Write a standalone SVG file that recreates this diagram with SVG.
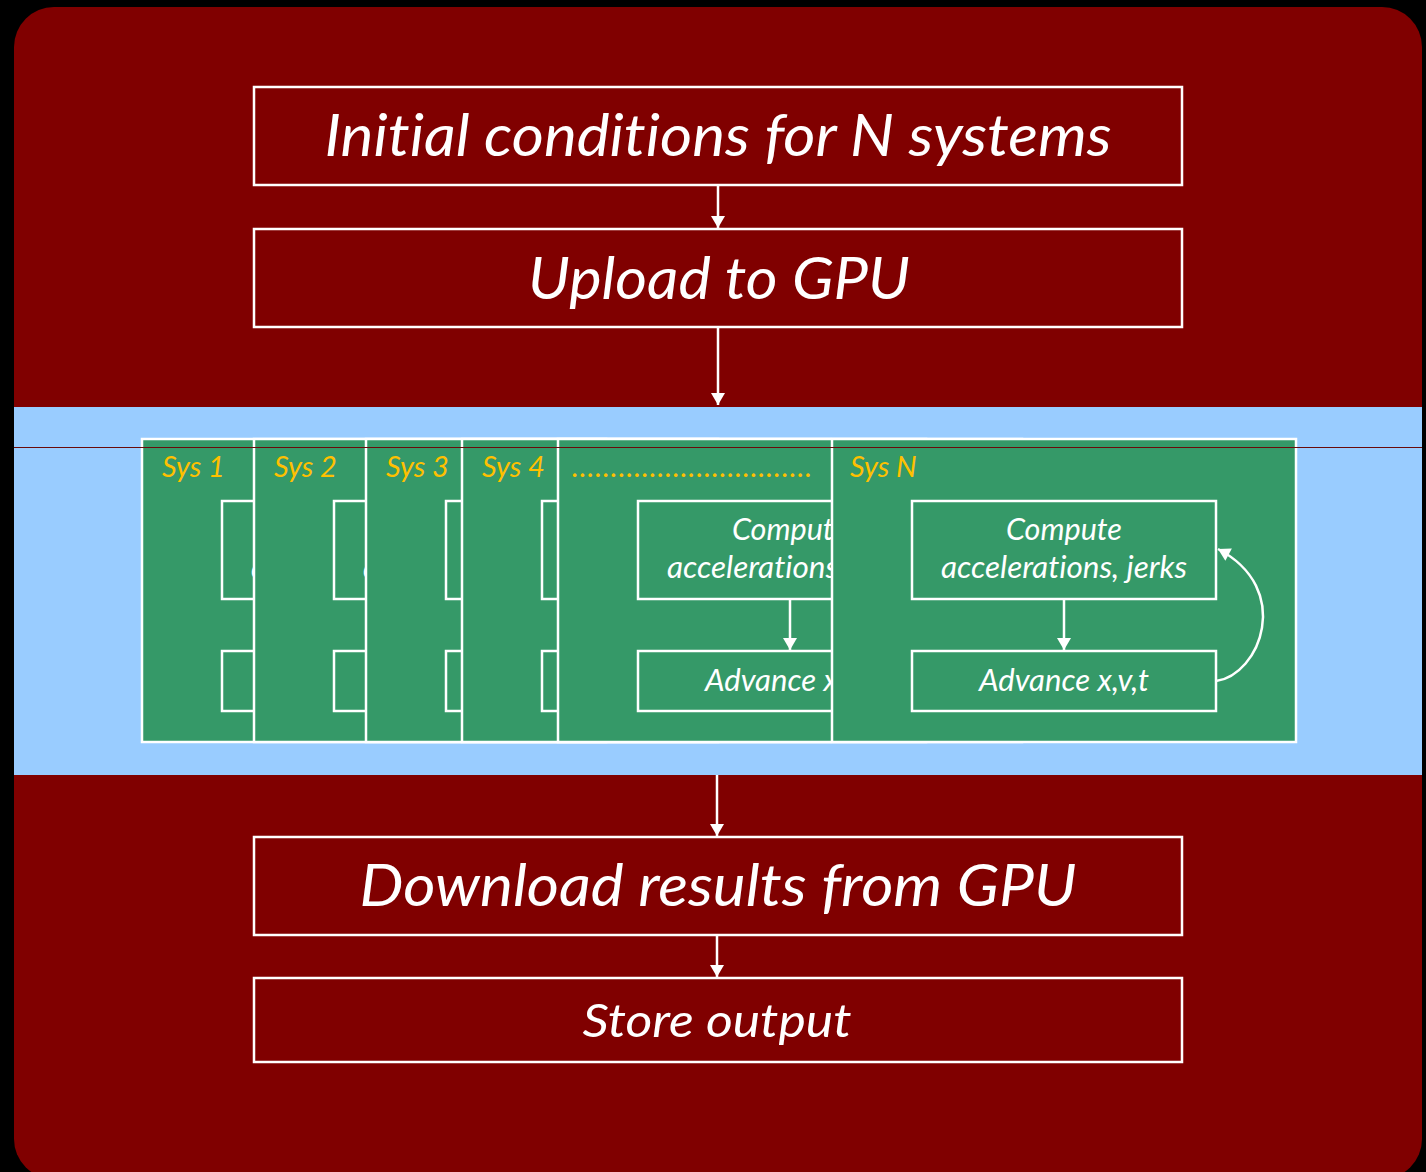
<svg xmlns="http://www.w3.org/2000/svg" xmlns:xlink="http://www.w3.org/1999/xlink" width="1426" height="1172" viewBox="0 0 1426 1172">
  <style>
    text { font-variant-ligatures: none; }
    .box { fill: none; stroke: #ffffff; stroke-width: 2.5; }
    .panel { fill: #359968; stroke: #ffffff; stroke-width: 2.5; }
    .inner { fill: none; stroke: #ffffff; stroke-width: 2.5; }
    .big { font-family: Lato, "Liberation Sans", sans-serif; font-style: italic; fill: #ffffff; text-anchor: middle; }
    .small { font-family: Lato, "Liberation Sans", sans-serif; font-style: italic; fill: #ffffff; font-size: 30px; text-anchor: middle; }
    .label { font-family: Lato, "Liberation Sans", sans-serif; font-style: italic; fill: #ffc000; font-size: 29px; }
    .wire { fill: none; stroke: #ffffff; stroke-width: 2.5; }
  </style>
  <defs>
    <marker id="head" viewBox="0 0 12 14" refX="12" refY="7" markerWidth="13" markerHeight="14" markerUnits="userSpaceOnUse" orient="auto">
      <path d="M0,0 L12,7 L0,14 Z" fill="#ffffff"/>
    </marker>
    <!-- one system's integration loop, drawn in panel-local coordinates -->
    <g id="sysPanel">
      <rect class="panel" x="0" y="0" width="464" height="303"/>
      <rect class="inner" x="80" y="62" width="304" height="98"/>
      <rect class="inner" x="80" y="212" width="304" height="60"/>
      <text class="small" x="232" y="101" textLength="116" lengthAdjust="spacingAndGlyphs">Compute</text>
      <text class="small" x="232" y="139" textLength="246" lengthAdjust="spacingAndGlyphs">accelerations, jerks</text>
      <text class="small" x="232" y="252" textLength="170" lengthAdjust="spacingAndGlyphs">Advance x,v,t</text>
      <line class="wire" x1="232" y1="160" x2="232" y2="211" marker-end="url(#head)"/>
      <path class="wire" d="M384,242 C428,236 462,150 386,110" marker-end="url(#head)"/>
    </g>
  </defs>

  <rect x="0" y="0" width="1426" height="1172" fill="#000000"/>
  <rect x="14" y="7" width="1408" height="1172" rx="40" ry="40" fill="#800000"/>
  <rect x="14" y="407" width="1408" height="368" fill="#99ccff"/>

  <!-- host-side steps -->
  <g id="initial">
    <rect class="box" x="254" y="87" width="928" height="98"/>
    <text class="big" x="718" y="156" font-size="58" textLength="787" lengthAdjust="spacingAndGlyphs">Initial conditions for N systems</text>
  </g>
  <g id="upload">
    <rect class="box" x="254" y="229" width="928" height="98"/>
    <text class="big" x="719" y="299" font-size="58" textLength="382" lengthAdjust="spacingAndGlyphs">Upload to GPU</text>
  </g>

  <!-- GPU: one panel per system -->
  <g id="sys-1" transform="translate(142,439)">
    <use xlink:href="#sysPanel"/>
    <text class="label" x="20" y="38">Sys 1</text>
  </g>
  <g id="sys-2" transform="translate(254,439)">
    <use xlink:href="#sysPanel"/>
    <text class="label" x="20" y="38">Sys 2</text>
  </g>
  <g id="sys-3" transform="translate(366,439)">
    <use xlink:href="#sysPanel"/>
    <text class="label" x="20" y="38">Sys 3</text>
  </g>
  <g id="sys-4" transform="translate(462,439)">
    <use xlink:href="#sysPanel"/>
    <text class="label" x="20" y="38">Sys 4</text>
  </g>
  <g id="sys-more" transform="translate(558,439)">
    <use xlink:href="#sysPanel"/>
    <text class="label" x="14" y="38" textLength="240" lengthAdjust="spacing">...............................</text>
  </g>
  <g id="sys-n" transform="translate(832,439)">
    <use xlink:href="#sysPanel"/>
    <text class="label" x="18" y="38">Sys N</text>
  </g>
  <line x1="14" y1="447.5" x2="1422" y2="447.5" stroke="#6a0a0a" stroke-width="1"/>

  <!-- host-side output -->
  <g id="download">
    <rect class="box" x="254" y="837" width="928" height="98"/>
    <text class="big" x="718" y="906" font-size="58" textLength="717" lengthAdjust="spacingAndGlyphs">Download results from GPU</text>
  </g>
  <g id="store">
    <rect class="box" x="254" y="978" width="928" height="84"/>
    <text class="big" x="717" y="1037" font-size="47" textLength="269" lengthAdjust="spacingAndGlyphs">Store output</text>
  </g>

  <g id="connectors">
    <line class="wire" x1="718" y1="186" x2="718" y2="228" marker-end="url(#head)"/>
    <line class="wire" x1="718" y1="328" x2="718" y2="405" marker-end="url(#head)"/>
    <line class="wire" x1="717" y1="775" x2="717" y2="836" marker-end="url(#head)"/>
    <line class="wire" x1="717" y1="936" x2="717" y2="977" marker-end="url(#head)"/>
  </g>
</svg>
